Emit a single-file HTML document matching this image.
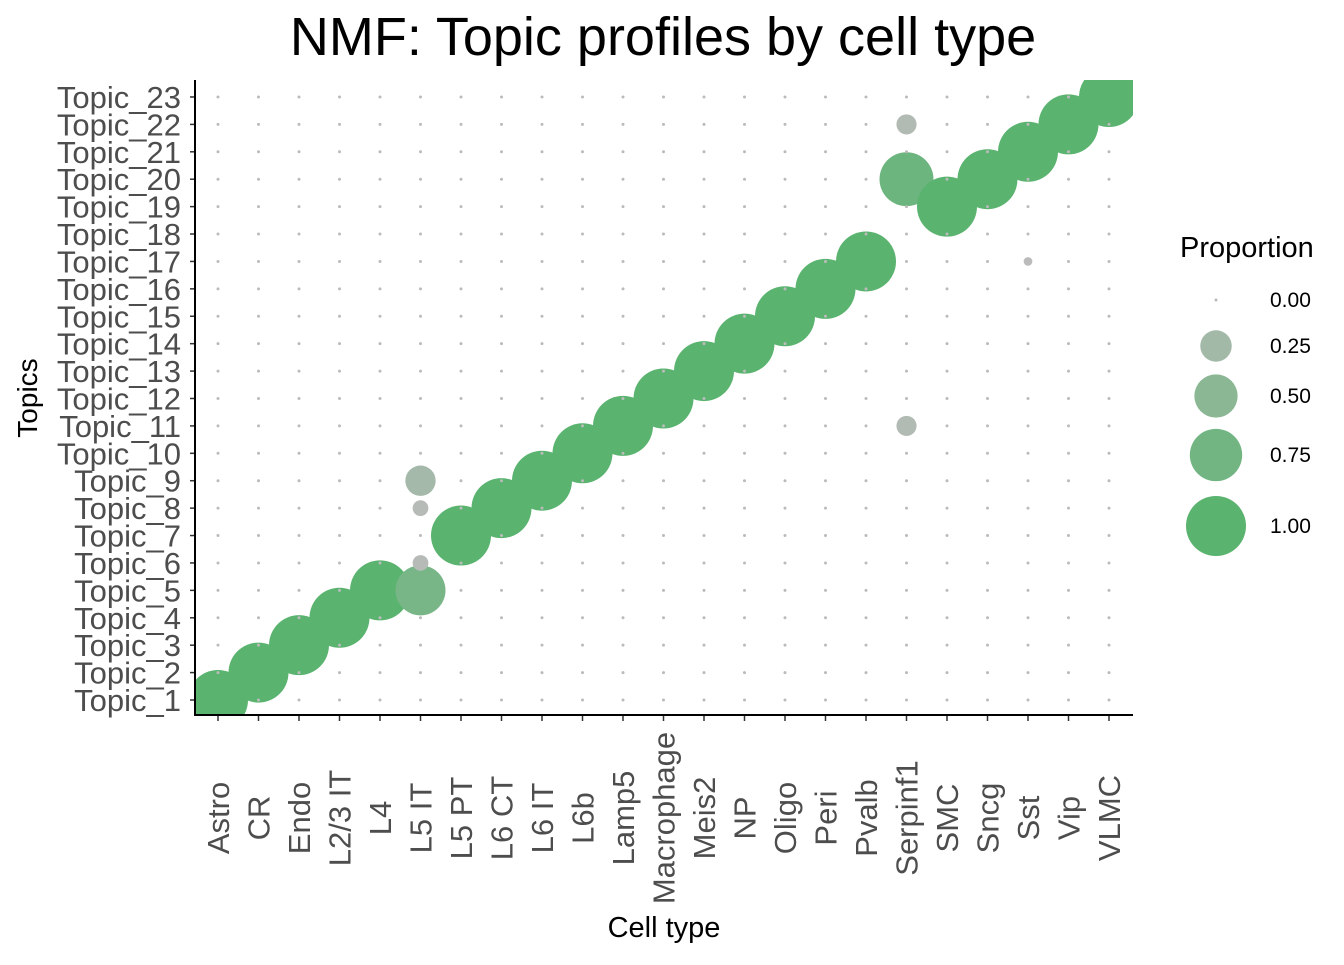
<!DOCTYPE html>
<html><head><meta charset="utf-8"><style>
body{margin:0;background:#fff;font-family:"Liberation Sans",Arial,sans-serif}
svg text{font-family:"Liberation Sans",Arial,sans-serif}
</style></head><body>
<svg width="1344" height="960" xmlns="http://www.w3.org/2000/svg">
<defs><clipPath id="pc"><rect x="195" y="80" width="938" height="635"/></clipPath></defs>
<text x="663" y="55" font-size="54" text-anchor="middle" fill="#000">NMF: Topic profiles by cell type</text>
<g id="yt"></g>
<g id="xt"></g>
<g id="pts" clip-path="url(#pc)"></g>
<line x1="195" y1="80" x2="195" y2="716" stroke="#000" stroke-width="2"/>
<line x1="194" y1="715" x2="1133" y2="715" stroke="#000" stroke-width="2"/>
<text transform="translate(37,398) rotate(-90)" font-size="28" text-anchor="middle">Topics</text>
<text x="664" y="937" font-size="29" text-anchor="middle">Cell type</text>
<g id="leg">
<text x="1180" y="257" font-size="29">Proportion</text>
</g>
</svg>
<script>
const cells=["Astro","CR","Endo","L2/3 IT","L4","L5 IT","L5 PT","L6 CT","L6 IT","L6b","Lamp5","Macrophage","Meis2","NP","Oligo","Peri","Pvalb","Serpinf1","SMC","Sncg","Sst","Vip","VLMC"];
const topics=["Topic_1","Topic_2","Topic_3","Topic_4","Topic_5","Topic_6","Topic_7","Topic_8","Topic_9","Topic_10","Topic_11","Topic_12","Topic_13","Topic_14","Topic_15","Topic_16","Topic_17","Topic_18","Topic_19","Topic_20","Topic_21","Topic_22","Topic_23"];
// nonzero entries: [cell index, topic index, proportion]
const mainTopic=[0,1,2,3,4,4,6,7,8,9,10,11,12,13,14,15,16,19,18,19,20,21,22];
const mainValue=[1,1,1,1,1,0.68,1,1,1,1,1,1,1,1,1,1,1,0.8,1,1,1,1,1];
const extras=[[5,5,0.05],[5,7,0.05],[5,8,0.23],[17,10,0.09],[17,21,0.09],[20,16,0.01]];
const legendVals=[0,0.25,0.5,0.75,1];
const NS="http://www.w3.org/2000/svg";
const x=i=>218+i*40.5, y=j=>700-j*27.41;
const r=p=>1.5+28.5*Math.sqrt(p);
function col(p){const a=[187,187,187],b=[90,179,111];return `rgb(${a.map((v,k)=>Math.round(v+(b[k]-v)*p)).join(',')})`;}
function mk(t,at,parent){const e=document.createElementNS(NS,t);for(const k in at)e.setAttribute(k,at[k]);parent.appendChild(e);return e;}
const pts=document.getElementById('pts'),yt=document.getElementById('yt'),xt=document.getElementById('xt'),leg=document.getElementById('leg');
const vals={};
cells.forEach((c,i)=>{vals[i+','+mainTopic[i]]=mainValue[i];});
extras.forEach(e=>{vals[e[0]+','+e[1]]=e[2];});
const zero=[],nz=[];
cells.forEach((c,i)=>topics.forEach((t,j)=>{const v=vals[i+','+j]||0;(v>0?nz:zero).push([i,j,v]);}));
nz.forEach(d=>{const e=mk('circle',{cx:x(d[0]),cy:y(d[1]),r:r(d[2]),fill:col(d[2])},pts);

});
zero.forEach(d=>{const e=mk('circle',{cx:x(d[0]),cy:y(d[1]),r:1.5,fill:col(0)},pts);

});
topics.forEach((t,j)=>{mk('line',{x1:190,x2:195,y1:y(j),y2:y(j),stroke:'#333','stroke-width':1.5},yt);
const e=mk('text',{x:181,y:y(j)+11,'font-size':31,'text-anchor':'end',fill:'#4d4d4d'},yt);e.textContent=t;

});
cells.forEach((c,i)=>{mk('line',{x1:x(i),x2:x(i),y1:715,y2:721,stroke:'#333','stroke-width':1.5},xt);
const e=mk('text',{transform:`translate(${x(i)+11},818) rotate(-90)`,'font-size':31,'text-anchor':'middle',fill:'#4d4d4d'},xt);e.textContent=c;

});
const ly=[300,346,396,455,526];
legendVals.forEach((v,k)=>{const c=mk('circle',{cx:1216,cy:ly[k],r:v==0?1.5:r(v),fill:col(v)},leg);


const t=mk('text',{x:1270,y:ly[k]+7,'font-size':21,fill:'#000'},leg);t.textContent=v.toFixed(2);

});
</script>
</body></html>
